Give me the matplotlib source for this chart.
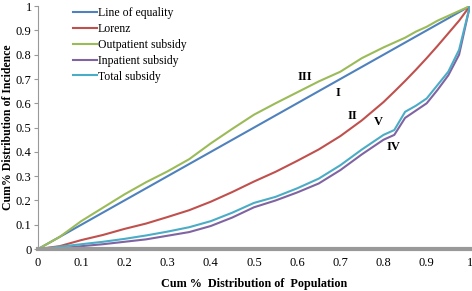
import matplotlib
matplotlib.use("Agg")
import matplotlib.pyplot as plt

# cumulative population share (x) and cumulative incidence of each series
pop_share = [0.0, 0.05, 0.1, 0.15, 0.2, 0.25, 0.3, 0.35, 0.4, 0.45, 0.5, 0.55,
             0.6, 0.65, 0.7, 0.75, 0.8, 0.825, 0.85, 0.875, 0.9, 0.925, 0.95,
             0.975, 1.0]
equality = list(pop_share)
lorenz = [0.0, 0.012, 0.037, 0.058, 0.083, 0.105, 0.132, 0.16, 0.195, 0.235,
          0.278, 0.318, 0.363, 0.41, 0.465, 0.53, 0.605, 0.648, 0.692, 0.738,
          0.786, 0.836, 0.888, 0.94, 1.0]
outpatient = [0.0, 0.05, 0.115, 0.17, 0.225, 0.275, 0.32, 0.37, 0.435, 0.495,
              0.553, 0.6, 0.645, 0.69, 0.73, 0.786, 0.83, 0.85, 0.87, 0.895,
              0.915, 0.94, 0.96, 0.98, 1.0]
inpatient = [0.0, 0.003, 0.012, 0.02, 0.03, 0.04, 0.055, 0.07, 0.095, 0.13,
             0.172, 0.2, 0.233, 0.27, 0.325, 0.39, 0.45, 0.47, 0.54, 0.57,
             0.6, 0.655, 0.715, 0.8, 1.0]
total = [0.0, 0.01, 0.02, 0.03, 0.042, 0.056, 0.072, 0.09, 0.115, 0.15,
         0.19, 0.215, 0.25, 0.29, 0.345, 0.41, 0.47, 0.49, 0.565, 0.59,
         0.62, 0.675, 0.73, 0.82, 1.0]

series_names = ["Line of equality", "Lorenz", "Outpatient subsidy",
                "Inpatient subsidy", "Total subsidy"]
series_colors = ["#4F81BD", "#C0504D", "#9BBB59", "#8064A2", "#4BACC6"]

tick_vals = [0.0, 0.1, 0.2, 0.3, 0.4, 0.5, 0.6, 0.7, 0.8, 0.9, 1.0]
tick_labels = ["0", "0.1", "0.2", "0.3", "0.4", "0.5", "0.6", "0.7", "0.8",
               "0.9", "1"]

# curve labels (roman numerals) and where they sit
curve_tags = ["III", "I", "II", "V", "IV"]
tag_x = [0.618, 0.694, 0.729, 0.787, 0.822]
tag_y = [0.708, 0.642, 0.547, 0.523, 0.42]

plt.rcParams["font.family"] = ["Liberation Serif", "DejaVu Serif"]

fig = plt.figure(figsize=(4.72, 2.91), dpi=100)
ax = fig.add_axes([0.0805, 0.144, 0.915, 0.835])

for ys, name, color in zip([equality, lorenz, outpatient, inpatient, total],
                           series_names, series_colors):
    ax.plot(pop_share, ys, color=color, linewidth=1.5, label=name)

for tag, tx, ty in zip(curve_tags, tag_x, tag_y):
    ax.text(tx, ty, tag, fontsize=9, fontweight="bold", ha="center",
            va="center")

ax.set_xlim(0, 1)
ax.set_ylim(0, 1)
ax.set_xticks(tick_vals)
ax.set_xticklabels(tick_labels)
ax.set_yticks(tick_vals)
ax.set_yticklabels(tick_labels)
ax.tick_params(axis="x", length=0, pad=6, labelsize=9)
ax.tick_params(axis="y", length=3, width=0.8, color="#999999", pad=1.5,
               labelsize=9)

for side in ("top", "right"):
    ax.spines[side].set_visible(False)
ax.spines["left"].set_color("#999999")
ax.spines["left"].set_linewidth(0.8)
ax.spines["bottom"].set_color("#999999")
ax.spines["bottom"].set_linewidth(3)

ax.set_xlabel("Cum %  Distribution of  Population", fontsize=8.7,
              fontweight="bold", labelpad=6.5)
ax.set_ylabel("Cum% Distribution of Incidence", fontsize=8.5,
              fontweight="bold", labelpad=1.5)

ax.legend(loc="upper left", bbox_to_anchor=(0.07, 1.016), frameon=False,
          fontsize=8.5, handlelength=2.0, handletextpad=0.1, labelspacing=0.33,
          borderaxespad=0)

fig.savefig("out.png", dpi=100, facecolor="white")
